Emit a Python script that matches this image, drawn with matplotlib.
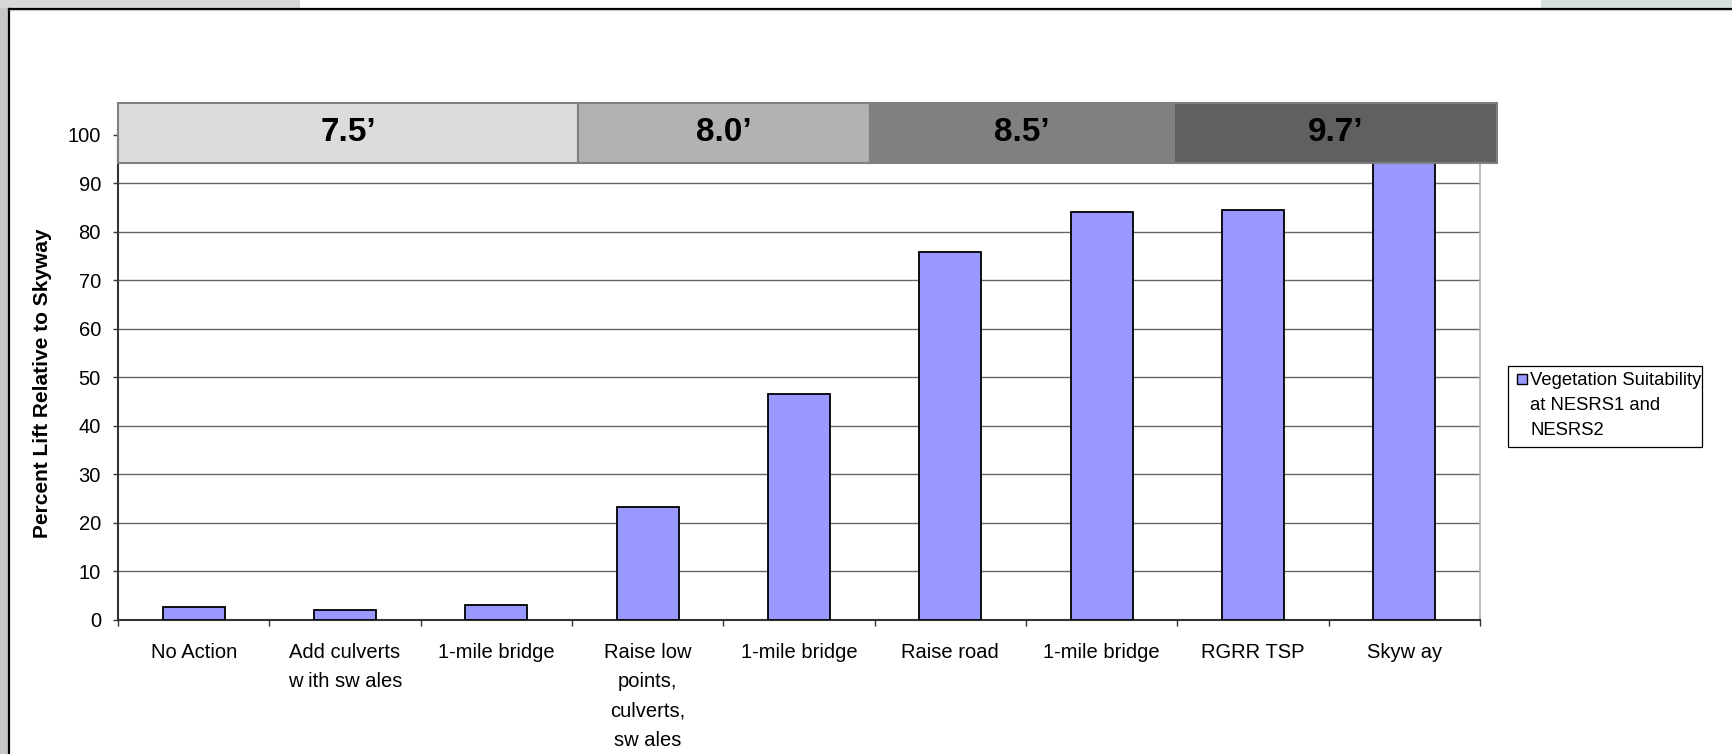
import matplotlib
matplotlib.use("Agg")
import matplotlib.pyplot as plt
from matplotlib.patches import Rectangle
from matplotlib.lines import Line2D
from matplotlib.transforms import blended_transform_factory
import numpy as np

# ---- data -------------------------------------------------------------
categories = [
    "No Action",
    "Add culverts\nw ith sw ales",
    "1-mile bridge",
    "Raise low\npoints,\nculverts,\nsw ales",
    "1-mile bridge",
    "Raise road",
    "1-mile bridge",
    "RGRR TSP",
    "Skyw ay",
]
percent_lift = [2.6, 2.1, 3.0, 23.2, 46.6, 75.8, 84.1, 84.5, 100.0]
series_label = ["Vegetation Suitability", "at NESRS1 and", "NESRS2"]
y_ticks = list(range(0, 101, 10))

# road elevation groups: label and number of alternatives in each group
elevation_labels = ["7.5\u2019", "8.0\u2019", "8.5\u2019", "9.7\u2019"]
elevation_group_sizes = [3, 2, 2, 2]

# ---- style ------------------------------------------------------------
BAR_COLOR = "#9999FF"
BAND_COLORS = ["#DCDCDC", "#B2B2B2", "#808080", "#606060"]
BAND_EDGE_NUDGE = [0.0, 0.04, -0.03, -0.02, 0.11]  # hand-placed header shapes
plt.rcParams["font.family"] = ["Liberation Sans", "DejaVu Sans"]

W, H = 1732, 754
fig = plt.figure(figsize=(W / 100, H / 100), dpi=100, facecolor="white")


def fx(px):
    return px / W


def fy(py):
    return 1 - py / H


# slide background strips and frame
fig.patches.append(Rectangle((0, 0), fx(8), 1, transform=fig.transFigure,
                             facecolor="#c6c6c6", edgecolor="none", zorder=-10))
fig.patches.append(Rectangle((0, fy(8)), fx(300), 8 / H, transform=fig.transFigure,
                             facecolor="#d8d8d8", edgecolor="none", zorder=-10))
fig.patches.append(Rectangle((fx(1541), fy(8)), 1 - fx(1541), 8 / H,
                             transform=fig.transFigure,
                             facecolor="#d8e0dc", edgecolor="none", zorder=-10))
fig.lines.append(Line2D([fx(8.5), fx(8.5)], [0, fy(8.5)], transform=fig.transFigure,
                        color="black", lw=1.6))
fig.lines.append(Line2D([fx(8.5), 1], [fy(8.5), fy(8.5)], transform=fig.transFigure,
                        color="black", lw=1.6))
fig.lines.append(Line2D([fx(9.5), 1], [fy(10), fy(10)], transform=fig.transFigure,
                        color="#c8c8c8", lw=0.8))

# ---- axes -------------------------------------------------------------
left, right, top, bottom = 118, 1480, 134.8, 619.7
ax = fig.add_axes([fx(left), fy(bottom), fx(right) - fx(left), fy(top) - fy(bottom)])
ax.set_facecolor("white")

x = np.arange(len(categories))
ax.bar(x, percent_lift, width=0.41, color=BAR_COLOR, edgecolor="black",
       linewidth=1.3, zorder=3)

ax.set_xlim(-0.5, len(categories) - 0.5)
ax.set_ylim(0, 100)
ax.set_yticks(y_ticks)
ax.yaxis.grid(True, color="#666666", linewidth=1.0)
ax.set_axisbelow(True)

ax.set_xticks(x)
ax.set_xticklabels(categories, fontsize=14.5, linespacing=1.7, va="top")
ax.set_xticks(np.arange(-0.5, len(categories), 1), minor=True)
ax.tick_params(axis="x", which="major", length=0, pad=16.5)
ax.tick_params(axis="x", which="minor", length=4.5, width=1.0, color="#333333")
ax.tick_params(axis="y", length=3.8, width=1.0, color="#333333", pad=8.5,
               labelsize=14.5)

for side in ("left", "bottom"):
    ax.spines[side].set_color("#333333")
    ax.spines[side].set_linewidth(1.5)
ax.spines["top"].set_visible(False)
ax.spines["right"].set_color("#b0b0b0")
ax.spines["right"].set_linewidth(1.2)

ax.set_ylabel("Percent Lift Relative to Skyway", fontsize=15, fontweight="bold",
              va="center")
ax.yaxis.set_label_coords((42.5 - left) / (right - left), 0.488)

# ---- elevation header bands ------------------------------------------
band_tr = blended_transform_factory(ax.transData, fig.transFigure)
band_bottom, band_top = fy(162.5), fy(102.5)
edges = np.concatenate([[-0.5], -0.5 + np.cumsum(elevation_group_sizes)]).astype(float)
edges += np.array(BAND_EDGE_NUDGE)
for i, label in enumerate(elevation_labels):
    x0, x1 = edges[i], edges[i + 1]
    ax.add_patch(Rectangle((x0, band_bottom), x1 - x0, band_top - band_bottom,
                           transform=band_tr, facecolor=BAND_COLORS[i],
                           edgecolor="#808080", linewidth=1.5,
                           clip_on=False, zorder=10))
    ax.text((x0 + x1) / 2, (band_bottom + band_top) / 2, label, transform=band_tr,
            ha="center", va="center", fontsize=24, fontweight="bold",
            color="black", zorder=11, clip_on=False)

# ---- legend -----------------------------------------------------------
lg_left, lg_right, lg_top, lg_bottom = 1508, 1702, 366, 447
fig.patches.append(Rectangle((fx(lg_left), fy(lg_bottom)), fx(lg_right) - fx(lg_left),
                             (lg_bottom - lg_top) / H,
                             transform=fig.transFigure, facecolor="white",
                             edgecolor="black", linewidth=0.9, zorder=5))
fig.patches.append(Rectangle((fx(1517), fy(384)), 10 / W, 10 / H,
                             transform=fig.transFigure, facecolor=BAR_COLOR,
                             edgecolor="black", linewidth=1.0, zorder=6))
for k, line in enumerate(series_label):
    fig.text(fx(1530), fy(385 + 25 * k), line, fontsize=13.3, ha="left",
             va="baseline", zorder=7)

fig.savefig("out.png", dpi=100, facecolor=fig.get_facecolor())
